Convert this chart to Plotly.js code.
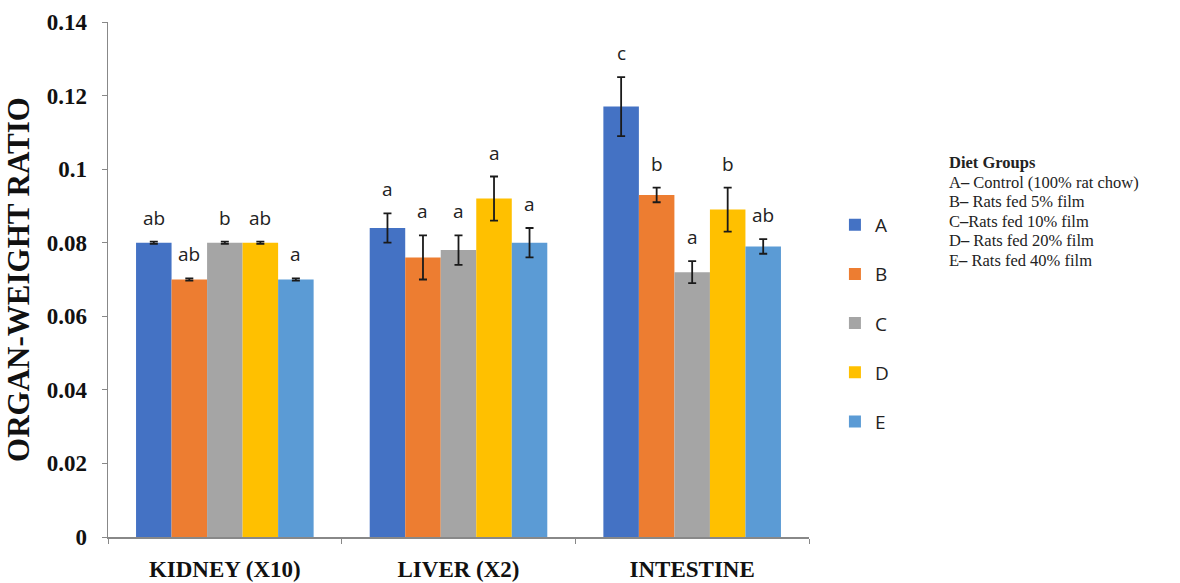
<!DOCTYPE html>
<html>
<head>
<meta charset="utf-8">
<script src="https://cdn.plot.ly/plotly-3.0.1.min.js"></script>
<style>html,body{margin:0;padding:0;background:#fff;}#chart{width:1180px;height:583px;}</style>
</head>
<body>
<div id="chart"></div>
<script>
const organs = ["KIDNEY (X10)", "LIVER (X2)", "INTESTINE"];
const groups = ["A", "B", "C", "D", "E"];
const valuesA = [0.080, 0.084, 0.117];
const valuesB = [0.070, 0.076, 0.093];
const valuesC = [0.080, 0.078, 0.072];
const valuesD = [0.080, 0.092, 0.089];
const valuesE = [0.070, 0.080, 0.079];
const errA = [0.0003, 0.004, 0.008];
const errB = [0.0003, 0.006, 0.002];
const errC = [0.0003, 0.004, 0.003];
const errD = [0.0003, 0.006, 0.006];
const errE = [0.0003, 0.004, 0.002];
const lettersA = ["ab", "a", "c"];
const lettersB = ["ab", "a", "b"];
const lettersC = ["b", "a", "a"];
const lettersD = ["ab", "a", "b"];
const lettersE = ["a", "a", "ab"];
const dietTitle = "Diet Groups";
const dietLabels = [
  "A<b>\u2013</b> Control (100% rat chow)",
  "B<b>\u2013</b> Rats fed 5% film",
  "C<b>\u2013</b>Rats fed 10% film",
  "D<b>\u2013</b> Rats fed 20% film",
  "E<b>\u2013</b> Rats fed 40% film"
];

const values = [valuesA, valuesB, valuesC, valuesD, valuesE];
const errs = [errA, errB, errC, errD, errE];
const letters = [lettersA, lettersB, lettersC, lettersD, lettersE];
const colors = ["#4472C4", "#ED7D31", "#A5A5A5", "#FFC000", "#5B9BD5"];

const bargap = 0.24;
const w = (1 - bargap) / groups.length;

const traces = groups.map((g, j) => ({
  type: "bar",
  name: g,
  legendgroup: g,
  x: organs,
  y: values[j],
  marker: {color: colors[j], line: {width: 0}},
  error_y: {type: "data", array: errs[j], visible: true, color: "#1a1a1a", thickness: 1.8, width: 4},
  hoverinfo: "x+y+name"
}));

const annotations = [];
groups.forEach((g, j) => {
  organs.forEach((o, i) => {
    annotations.push({
      xref: "x", yref: "y",
      x: i + (j - (groups.length - 1) / 2) * w,
      y: values[j][i] + errs[j][i],
      yanchor: "bottom",
      yshift: 9,
      text: letters[j][i],
      showarrow: false,
      font: {family: "Open Sans, sans-serif", size: 19, color: "#222"}
    });
  });
});

const dietLines = ["<b>" + dietTitle + "</b>"].concat(dietLabels);
dietLines.forEach((t, k) => {
  annotations.push({
    xref: "paper", yref: "paper",
    x: 1.197, y: 0.727,
    xanchor: "left", yanchor: "middle",
    yshift: -k * 19.6,
    align: "left",
    showarrow: false,
    text: t,
    font: {family: "Liberation Serif, serif", size: 16.5, color: "#222"}
  });
});

const layout = {
  width: 1180, height: 583,
  margin: {l: 108, r: 371, t: 22, b: 46},
  paper_bgcolor: "#fff", plot_bgcolor: "#fff",
  barmode: "group",
  bargap: bargap,
  bargroupgap: 0,
  showlegend: true,
  legend: {
    x: 1.037, y: 0.643, xanchor: "left", yanchor: "top",
    traceorder: "grouped",
    tracegroupgap: 21.5,
    font: {family: "Open Sans, sans-serif", size: 19, color: "#222"},
    itemwidth: 30
  },
  xaxis: {
    showline: true, linecolor: "#888", linewidth: 1.5,
    ticks: "outside", tickson: "boundaries", ticklen: 5, tickcolor: "#888",
    ticklabelstandoff: 11,
    tickfont: {family: "Liberation Serif, serif", size: 23, color: "#111", weight: "bold"},
    showgrid: false, zeroline: false
  },
  yaxis: {
    range: [0, 0.14], dtick: 0.02,
    showline: true, linecolor: "#888", linewidth: 1.5,
    ticks: "outside", ticklen: 5, tickcolor: "#888",
    ticklabelstandoff: 10,
    tickfont: {family: "Liberation Serif, serif", size: 23, color: "#111", weight: "bold"},
    showgrid: false, zeroline: false,
    title: {text: "ORGAN-WEIGHT RATIO", standoff: 8,
            font: {family: "Liberation Serif, serif", size: 31, color: "#111", weight: "bold"}}
  },
  annotations: annotations
};

Plotly.newPlot("chart", traces, layout, {displayModeBar: false, staticPlot: true});
</script>
</body>
</html>
